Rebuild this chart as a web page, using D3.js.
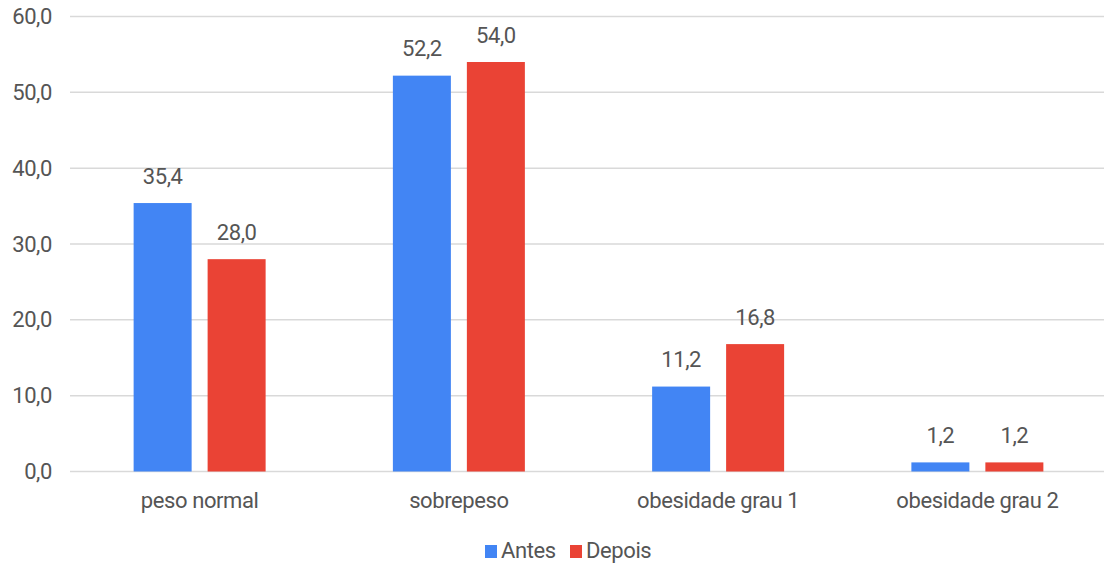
<!DOCTYPE html>
<html>
<head>
<meta charset="utf-8">
<script src="https://cdn.jsdelivr.net/npm/d3@7"></script>
<style>
  html, body { margin: 0; padding: 0; background: #fff; }
  svg text { font-family: Roboto, "Liberation Sans", Arial, sans-serif; fill: #555; letter-spacing: -0.4px; }
</style>
</head>
<body>
<svg id="chart" width="1104" height="564"></svg>
<script>
// Categories and series
const categories = ["peso normal", "sobrepeso", "obesidade grau 1", "obesidade grau 2"];
const seriesNames = ["Antes", "Depois"];
const antes = [35.4, 52.2, 11.2, 1.2];
const depois = [28.0, 54.0, 16.8, 1.2];
const yTicks = [0, 10, 20, 30, 40, 50, 60];
const colors = ["#4285F4", "#EA4335"];

const rows = categories.map((c, i) => ({ category: c, values: [antes[i], depois[i]] }));

const svg = d3.select("#chart");
const plotLeft = 70, plotRight = 1107, plotTop = 16.5, plotBottom = 471.5;
const fontSize = 22;

const y = d3.scaleLinear().domain([0, 60]).range([plotBottom, plotTop]);
const x0 = d3.scaleBand().domain(categories).range([plotLeft, plotRight]).padding(0);
const x1 = d3.scaleBand().domain(seriesNames).range([0, x0.bandwidth()])
  .paddingInner(0.216).paddingOuter(0.86);

const fmt = v => d3.format(".1f")(v).replace(".", ",");

// Gridlines
svg.append("g").selectAll("line").data(yTicks).join("line")
  .attr("x1", plotLeft).attr("x2", 1104)
  .attr("y1", d => y(d)).attr("y2", d => y(d))
  .attr("stroke", "#d9d9d9").attr("stroke-width", 1.5);

// Y axis labels
const yAxis = d3.axisLeft(y).tickValues(yTicks).tickFormat(fmt).tickSize(0).tickPadding(0);
const gy = svg.append("g").attr("transform", `translate(52,0)`).call(yAxis);
gy.select(".domain").remove();
gy.selectAll("text").attr("font-size", fontSize).attr("fill", "#555")
  .attr("font-family", "Roboto, 'Liberation Sans', Arial, sans-serif");

// Bars
const groups = svg.append("g").selectAll("g").data(rows).join("g")
  .attr("transform", d => `translate(${x0(d.category)},0)`);

groups.selectAll("rect").data(d => d.values.map((v, i) => ({ key: seriesNames[i], value: v, i })))
  .join("rect")
  .attr("x", d => x1(d.key))
  .attr("width", x1.bandwidth())
  .attr("y", d => y(d.value))
  .attr("height", d => y(0) - y(d.value))
  .attr("fill", d => colors[d.i]);

// Value labels
groups.selectAll("text.val").data(d => d.values.map((v, i) => ({ key: seriesNames[i], value: v })))
  .join("text").attr("class", "val")
  .attr("x", d => x1(d.key) + x1.bandwidth() / 2)
  .attr("y", d => y(d.value) - 19.5)
  .attr("text-anchor", "middle")
  .attr("font-size", fontSize)
  .text(d => fmt(d.value));

// X axis labels
const xAxis = d3.axisBottom(x0).tickSize(0).tickPadding(0);
const gx = svg.append("g").attr("transform", `translate(0,${plotBottom})`).call(xAxis);
gx.select(".domain").remove();
gx.selectAll("text").attr("font-size", fontSize).attr("fill", "#555")
  .attr("font-family", "Roboto, 'Liberation Sans', Arial, sans-serif")
  .attr("dy", null).attr("y", 36);

// Legend
const legend = svg.append("g");
const legendItems = [{ name: "Antes", x: 485 }, { name: "Depois", x: 570 }];
legendItems.forEach((it, i) => {
  legend.append("rect").attr("x", it.x).attr("y", 545).attr("width", 12).attr("height", 13)
    .attr("fill", colors[i]);
  legend.append("text").attr("x", it.x + 16).attr("y", 558).attr("font-size", fontSize)
    .text(it.name);
});
</script>
</body>
</html>
